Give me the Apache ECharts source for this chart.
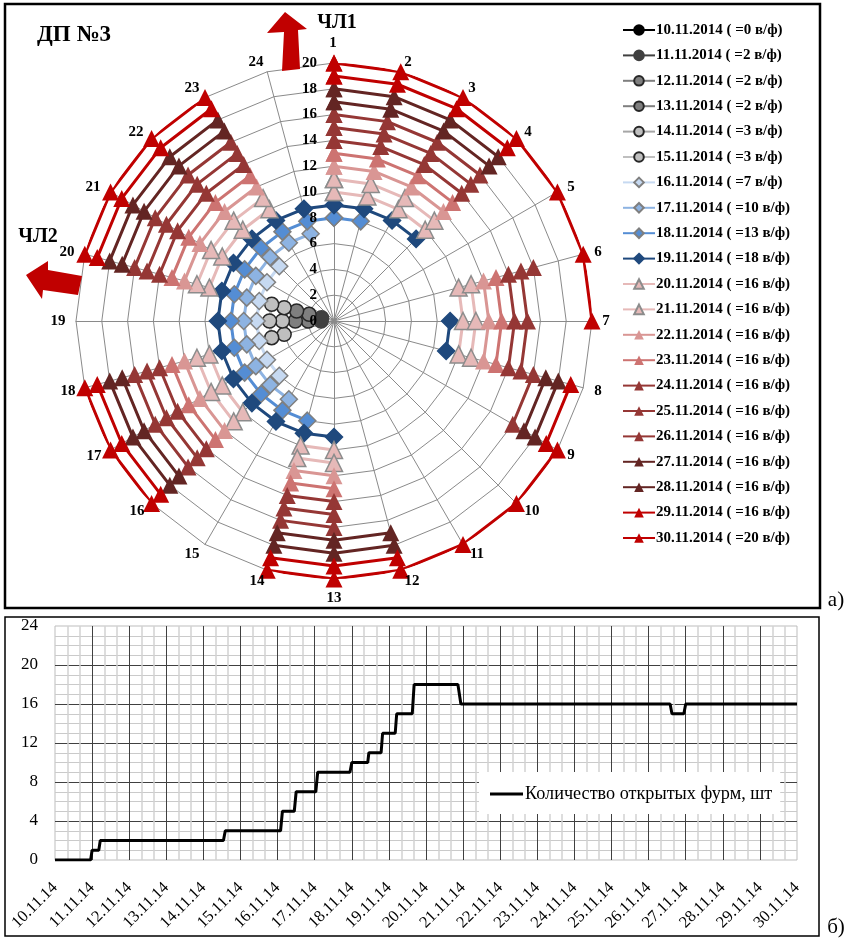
<!DOCTYPE html>
<html>
<head>
<meta charset="utf-8">
<title>ДП №3</title>
<script src="https://cdn.jsdelivr.net/npm/echarts@6/dist/echarts.min.js"></script>
<style>
  html, body { margin: 0; padding: 0; background: #fff; }
  #chart { width: 848px; height: 939px; }
</style>
</head>
<body>
<div id="chart"></div>
<script>
const FONT = '"Liberation Serif", serif';

// ------------------------------------------------------------
// Data: radar part
// ------------------------------------------------------------

const spokeLabels = ["1", "2", "3", "4", "5", "6", "7", "8", "9", "10", "11", "12",
  "13", "14", "15", "16", "17", "18", "19", "20", "21", "22", "23", "24"];

const dayNames = [
  "10.11.2014 ( =0 в/ф)", "11.11.2014 ( =2 в/ф)", "12.11.2014 ( =2 в/ф)",
  "13.11.2014 ( =2 в/ф)", "14.11.2014 ( =3 в/ф)", "15.11.2014 ( =3 в/ф)",
  "16.11.2014 ( =7 в/ф)", "17.11.2014 ( =10 в/ф)", "18.11.2014 ( =13 в/ф)",
  "19.11.2014 ( =18 в/ф)", "20.11.2014 ( =16 в/ф)", "21.11.2014 ( =16 в/ф)",
  "22.11.2014 ( =16 в/ф)", "23.11.2014 ( =16 в/ф)", "24.11.2014 ( =16 в/ф)",
  "25.11.2014 ( =16 в/ф)", "26.11.2014 ( =16 в/ф)", "27.11.2014 ( =16 в/ф)",
  "28.11.2014 ( =16 в/ф)", "29.11.2014 ( =16 в/ф)", "30.11.2014 ( =20 в/ф)",
];

// radial level each day is plotted at
const dayLevels = [0, 1, 2, 3, 4, 5, 6, 7, 8, 9, 10, 11, 12, 13, 14, 15, 16, 17, 18, 19, 20];

// which tuyeres were open on each day
const open2 = [19, 20];
const open3 = [18, 19, 20];
const open7 = [16, 17, 18, 19, 20, 21, 22];
const open10 = [15, 16, 17, 18, 19, 20, 21, 22, 23, 24];
const open13 = [1, 2, 14, 15, 16, 17, 18, 19, 20, 21, 22, 23, 24];
const open18 = [1, 2, 3, 4, 7, 8, 13, 14, 15, 16, 17, 18, 19, 20, 21, 22, 23, 24];
const open16a = [1, 2, 3, 4, 6, 7, 8, 13, 14, 16, 17, 18, 20, 21, 22, 23];
const open16b = [1, 2, 3, 4, 6, 8, 9, 13, 14, 16, 17, 18, 20, 21, 22, 23];
const open16c = [1, 2, 3, 4, 8, 9, 12, 13, 14, 16, 17, 18, 20, 21, 22, 23];
const open20 = [1, 2, 3, 4, 5, 6, 7, 9, 10, 11, 12, 13, 14, 16, 17, 18, 20, 21, 22, 23];

const dayOpen = [[], open2, open2, open2, open3, open3, open7, open10, open13, open18,
  open16a, open16a, open16a, open16a, open16a, open16a, open16b, open16c, open16c, open16c, open20];

const lineColors = ["#000000", "#404040", "#7f7f7f", "#7f7f7f", "#a6a6a6", "#bfbfbf",
  "#c6d9f1", "#8db3e2", "#548dd4", "#1f497d",
  "#e6b9b8", "#e6b9b8", "#d99694", "#cd7371", "#953735", "#953735", "#953735",
  "#632523", "#632523", "#c00000", "#c00000"];
const fillColors = ["#000000", "#404040", "#7f7f7f", "#7f7f7f", "#bfbfbf", "#bfbfbf",
  "#c6d9f1", "#8db3e2", "#548dd4", "#1f497d",
  "#e6b9b8", "#e6b9b8", "#d99694", "#cd7371", "#953735", "#953735", "#953735",
  "#632523", "#632523", "#c00000", "#c00000"];
const markerBorders = ["#000000", "#404040", "#262626", "#262626", "#262626", "#262626",
  "#7f7f7f", "#7f7f7f", "#7f7f7f", "#1f497d",
  "#8c8c8c", "#8c8c8c", "#d99694", "#cd7371", "#953735", "#953735", "#953735",
  "#632523", "#632523", "#c00000", "#c00000"];

// ------------------------------------------------------------
// Data: step chart
// ------------------------------------------------------------

const dateLabels = ["10.11.14", "11.11.14", "12.11.14", "13.11.14", "14.11.14", "15.11.14",
  "16.11.14", "17.11.14", "18.11.14", "19.11.14", "20.11.14", "21.11.14", "22.11.14",
  "23.11.14", "24.11.14", "25.11.14", "26.11.14", "27.11.14", "28.11.14", "29.11.14", "30.11.14"];

const stepDays = [0, 0.96, 1.0, 1.18, 1.22, 4.54, 4.59, 6.08, 6.13, 6.45, 6.5, 7.03, 7.08,
  7.95, 8.0, 8.43, 8.46, 8.79, 8.83, 9.17, 9.21, 9.63, 9.68, 10.86, 10.94, 16.58, 16.63,
  16.95, 17.0, 20];
const stepCounts = [0, 0, 1, 1, 2, 2, 3, 3, 5, 5, 7, 7, 9,
  9, 10, 10, 11, 11, 13, 13, 15, 15, 18, 18, 16, 16, 15,
  15, 16, 16];

const stepName = "Количество открытых фурм, шт";

// ------------------------------------------------------------
// Series
// ------------------------------------------------------------

function markerFor(i) {
  if (i < 6) return "circle";
  if (i < 10) return "diamond";
  return "triangle";
}

function markerSize(i) {
  if (i === 0) return 8;
  if (i < 6) return 14;
  return 17;
}

const daySeries = dayNames.map((name, i) => ({
  name,
  type: "line",
  coordinateSystem: "polar",
  clip: false,
  showSymbol: true,
  showAllSymbol: true,
  symbol: markerFor(i),
  symbolSize: markerSize(i),
  lineStyle: { color: lineColors[i], width: 3 },
  itemStyle: { color: fillColors[i], borderColor: markerBorders[i], borderWidth: i < 12 ? 1.5 : 0 },
  // spoke 25 is spoke 1 again, so that 24 joins up with 1
  data: [...spokeLabels, "1"].map((_, s) => {
    const spoke = s % 24 + 1;
    return [dayOpen[i].includes(spoke) ? dayLevels[i] : "-", s];
  }),
}));

const stepSeries = {
  name: stepName,
  type: "line",
  xAxisIndex: 0,
  yAxisIndex: 0,
  showSymbol: false,
  symbol: "none",
  lineStyle: { color: "#000", width: 3 },
  itemStyle: { color: "#000" },
  data: stepDays.map((d, i) => [d, stepCounts[i]]),
};

// ------------------------------------------------------------
// Chart
// ------------------------------------------------------------

const boldText = (size) => ({
  fontFamily: FONT,
  fontWeight: "bold",
  fontSize: size,
  fill: "#000",
  align: "center",
  verticalAlign: "middle",
});

// where Excel left the spoke numbers: they do not sit at one even distance
const spokeLabelSpots = [[333, 43], [408, 62], [472, 88], [528, 132], [571, 187], [598, 252],
  [606, 321], [598, 391], [571, 455], [532, 511], [477, 554], [412, 581],
  [334, 598], [257, 581], [192, 554], [137, 511], [94, 456], [68, 391],
  [58, 321], [67, 252], [93, 187], [136, 132], [192, 88], [256, 62]];

const spokeLabelTexts = spokeLabels.map((text, i) => ({
  type: "text",
  z: 30,
  x: spokeLabelSpots[i][0],
  y: spokeLabelSpots[i][1],
  style: { text, ...boldText(15) },
}));

const option = {
  animation: false,
  backgroundColor: "#fff",
  radar: {
    center: [334, 321],
    radius: 258,
    splitNumber: 10,
    shape: "polygon",
    indicator: spokeLabels.map(() => ({ name: "", min: 0, max: 20 })),
    axisName: { show: false },
    axisLine: { lineStyle: { color: "#8a8a8a", width: 1 } },
    axisTick: { show: false },
    axisLabel: { show: false },
    splitLine: { lineStyle: { color: "#8a8a8a", width: 1 } },
    splitArea: { show: false },
  },
  polar: { center: [334, 321], radius: 258 },
  angleAxis: {
    type: "value",
    min: 0,
    max: 24,
    interval: 1,
    startAngle: 90,
    axisLine: { show: false },
    axisTick: { show: false },
    splitLine: { show: false },
    axisLabel: { show: false },
  },
  radiusAxis: {
    type: "value",
    min: 0,
    max: 20,
    interval: 2,
    z: 20,
    axisLine: { show: false },
    axisTick: { show: false },
    splitLine: { show: false },
    axisLabel: {
      margin: 17,
      color: "#000",
      fontFamily: FONT,
      fontWeight: "bold",
      fontSize: 15,
      padding: [3, 0, 0, 0],
    },
  },
  grid: { left: 55, right: 51, top: 626, height: 234, show: true, borderColor: "#bdbdbd", borderWidth: 1 },
  xAxis: {
    type: "value",
    min: 0,
    max: 20,
    interval: 1,
    minorTick: { show: false, splitNumber: 3 },
    minorSplitLine: { show: true, lineStyle: { color: "#d2d2d2", width: 1.5 } },
    splitLine: { show: true, showMinLine: false, showMaxLine: false, lineStyle: { color: "#404040", width: 1 } },
    axisLine: { show: false },
    axisTick: { show: false },
    axisLabel: {
      rotate: 45,
      margin: 25,
      color: "#000",
      fontFamily: FONT,
      fontSize: 16.5,
      formatter: (v) => dateLabels[v],
    },
  },
  yAxis: {
    type: "value",
    min: 0,
    max: 24,
    interval: 4,
    minorTick: { show: false, splitNumber: 4 },
    minorSplitLine: { show: true, lineStyle: { color: "#cacaca", width: 1 } },
    splitLine: { show: true, showMinLine: false, showMaxLine: false, lineStyle: { color: "#404040", width: 1 } },
    axisLine: { show: false },
    axisTick: { show: false },
    axisLabel: { margin: 17, color: "#000", fontFamily: FONT, fontSize: 17 },
  },
  legend: [
    {
      data: dayNames,
      orient: "vertical",
      left: 622,
      top: 22.5,
      padding: 0,
      itemWidth: 32,
      itemHeight: 12,
      itemGap: 10.4,
      textStyle: { color: "#000", fontFamily: FONT, fontWeight: "bold", fontSize: 15, padding: [0, 0, 0, -4] },
    },
    {
      data: [{ name: stepName, icon: "rect" }],
      left: 479,
      top: 772,
      backgroundColor: "#fff",
      padding: [13, 8, 11, 11],
      itemWidth: 33,
      itemHeight: 3,
      textStyle: { color: "#000", fontFamily: FONT, fontSize: 18.2, padding: [0, 0, 0, -3] },
    },
  ],
  graphic: [
    { type: "rect", z: -10, shape: { x: 5, y: 4, width: 815, height: 604 }, style: { fill: "none", stroke: "#000", lineWidth: 2.5 } },
    { type: "rect", z: -10, shape: { x: 5, y: 617, width: 814, height: 319 }, style: { fill: "none", stroke: "#000", lineWidth: 1.5 } },
    { type: "polygon", z: 30, shape: { points: [[285, 12], [307, 29], [298, 30], [300, 69], [282, 71], [284, 32], [267, 33]] }, style: { fill: "#c00000" } },
    { type: "polygon", z: 30, shape: { points: [[26, 275], [48, 261], [48, 270], [82, 276], [78, 295], [43, 290], [42, 299]] }, style: { fill: "#c00000" } },
    { type: "text", z: 30, x: 74, y: 35, style: { text: "ДП №3", ...boldText(23) } },
    { type: "text", z: 30, x: 337, y: 23, style: { text: "ЧЛ1", ...boldText(20) } },
    { type: "text", z: 30, x: 38, y: 237, style: { text: "ЧЛ2", ...boldText(20) } },
    { type: "text", z: 30, x: 836, y: 600, style: { text: "а)", ...boldText(21), fontWeight: "normal" } },
    { type: "text", z: 30, x: 836, y: 927, style: { text: "б)", ...boldText(21), fontWeight: "normal" } },
    ...spokeLabelTexts,
  ],
  series: [...daySeries, stepSeries],
};

echarts.init(document.getElementById("chart"), null, { renderer: "canvas" }).setOption(option);
</script>
</body>
</html>
